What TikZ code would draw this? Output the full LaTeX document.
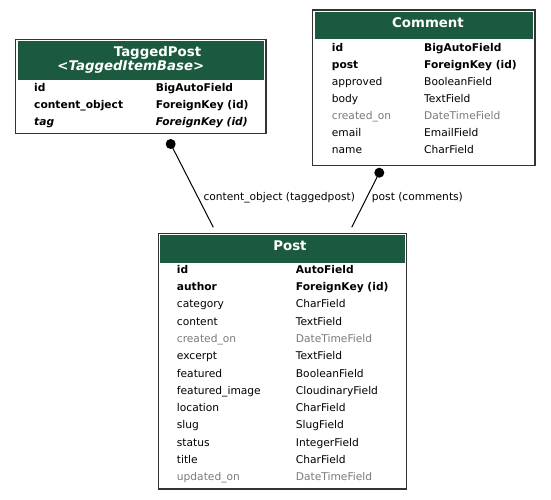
\documentclass[tikz,border=0pt]{standalone}
\usepackage{fontspec}
\setmainfont{DejaVu Sans}
\definecolor{hdrgreen}{HTML}{1B5A3F}
\definecolor{fldgray}{HTML}{7B7B7B}
\newcommand\fldfont{\fontsize{10.67}{12}\selectfont}
\newcommand\hdrfont{\fontsize{13.33}{15}\selectfont\bfseries}
\begin{document}
\begin{tikzpicture}[x=1pt,y=-1pt,
 frame/.style={draw=black!80,line width=1.2pt,anchor=north west,inner sep=0,outer sep=0},
 band/.style={fill=hdrgreen},
 fld/.style={anchor=base west,inner sep=0,font=\fldfont},
 grey/.style={text=fldgray},
 bf/.style={font=\fldfont\bfseries},
 bfit/.style={font=\fldfont\bfseries\itshape},
 ttl/.style={anchor=base,inner sep=0,font=\hdrfont,text=white},
 lbl/.style={anchor=base west,inner sep=0,font=\fldfont},
 rel/.style={line width=1pt},
 dotend/.style={fill=black},
]
\useasboundingbox (0,0) rectangle (551,500);
\fill[white] (0,0) rectangle (551,500);

% ---------- TaggedPost ----------
\node[frame,minimum width=250.5pt,minimum height=94pt] (tp) at (15.5,39.5) {};
\fill[band] (17.5,41.5) rectangle (264,80.5);
\node[ttl] (tpt1) at (157.5,56.7) {TaggedPost};
\node[ttl,font=\hdrfont\itshape] (tpt2) at (130.8,70.7) {<TaggedItemBase>};
\node[fld,bf] (tpa1) at (34,91.7) {id};
\node[fld,bf] (tpb1) at (155.7,91.7) {BigAutoField};
\node[fld,bf] (tpa2) at (34,108.7) {content\_object};
\node[fld,bf] (tpb2) at (155.7,108.7) {ForeignKey (id)};
\node[fld,bfit] (tpa3) at (34,125.7) {tag};
\node[fld,bfit] (tpb3) at (155.7,125.7) {ForeignKey (id)};

% ---------- Comment ----------
\node[frame,minimum width=222.5pt,minimum height=155.7pt] (cm) at (312.5,10) {};
\fill[band] (314.5,12) rectangle (533,39.3);
\node[ttl] (cmt) at (428,27.7) {Comment};
\node[fld,bf] (cma1) at (331.7,51.7) {id};
\node[fld,bf] (cmb1) at (424,51.7) {BigAutoField};
\node[fld,bf] (cma2) at (331.7,68.6) {post};
\node[fld,bf] (cmb2) at (424,68.6) {ForeignKey (id)};
\node[fld] (cma3) at (331.7,85.6) {approved};
\node[fld] (cmb3) at (424,85.6) {BooleanField};
\node[fld] (cma4) at (331.7,102.5) {body};
\node[fld] (cmb4) at (424,102.5) {TextField};
\node[fld,grey] (cma5) at (331.7,119.4) {created\_on};
\node[fld,grey] (cmb5) at (424,119.4) {DateTimeField};
\node[fld] (cma6) at (331.7,136.4) {email};
\node[fld] (cmb6) at (424,136.4) {EmailField};
\node[fld] (cma7) at (331.7,153.3) {name};
\node[fld] (cmb7) at (424,153.3) {CharField};

% ---------- Post ----------
\node[frame,minimum width=248.4pt,minimum height=255.7pt] (po) at (158.3,233.3) {};
\fill[band] (160.3,235.3) rectangle (404.7,262.7);
\node[ttl] (pot) at (290,250.7) {Post};
\node[fld,bf] (poa1) at (176.7,273.3) {id};
\node[fld,bf] (pob1) at (295.7,273.3) {AutoField};
\node[fld,bf] (poa2) at (176.7,290.6) {author};
\node[fld,bf] (pob2) at (295.7,290.6) {ForeignKey (id)};
\node[fld] (poa3) at (176.7,307.9) {category};
\node[fld] (pob3) at (295.7,307.9) {CharField};
\node[fld] (poa4) at (176.7,325.1) {content};
\node[fld] (pob4) at (295.7,325.1) {TextField};
\node[fld,grey] (poa5) at (176.7,342.4) {created\_on};
\node[fld,grey] (pob5) at (295.7,342.4) {DateTimeField};
\node[fld] (poa6) at (176.7,359.7) {excerpt};
\node[fld] (pob6) at (295.7,359.7) {TextField};
\node[fld] (poa7) at (176.7,377.0) {featured};
\node[fld] (pob7) at (295.7,377.0) {BooleanField};
\node[fld] (poa8) at (176.7,394.3) {featured\_image};
\node[fld] (pob8) at (295.7,394.3) {CloudinaryField};
\node[fld] (poa9) at (176.7,411.5) {location};
\node[fld] (pob9) at (295.7,411.5) {CharField};
\node[fld] (poa10) at (176.7,428.8) {slug};
\node[fld] (pob10) at (295.7,428.8) {SlugField};
\node[fld] (poa11) at (176.7,446.1) {status};
\node[fld] (pob11) at (295.7,446.1) {IntegerField};
\node[fld] (poa12) at (176.7,463.4) {title};
\node[fld] (pob12) at (295.7,463.4) {CharField};
\node[fld,grey] (poa13) at (176.7,480.7) {updated\_on};
\node[fld,grey] (pob13) at (295.7,480.7) {DateTimeField};

% ---------- relations ----------
\coordinate (tpdot) at (170.7,144);
\coordinate (poin1) at (213.3,227.3);
\coordinate (cmdot) at (379.3,172.7);
\coordinate (poin2) at (351.7,227.3);
\draw[rel] (tpdot) -- (poin1);
\draw[rel] (cmdot) -- (poin2);
\fill[dotend] (tpdot) circle (5);
\fill[dotend] (cmdot) circle (5);
\node[lbl] (l1) at (203.3,200.7) {content\_object (taggedpost)};
\node[lbl] (l2) at (371.7,200.7) {post (comments)};
\end{tikzpicture}
\end{document}
